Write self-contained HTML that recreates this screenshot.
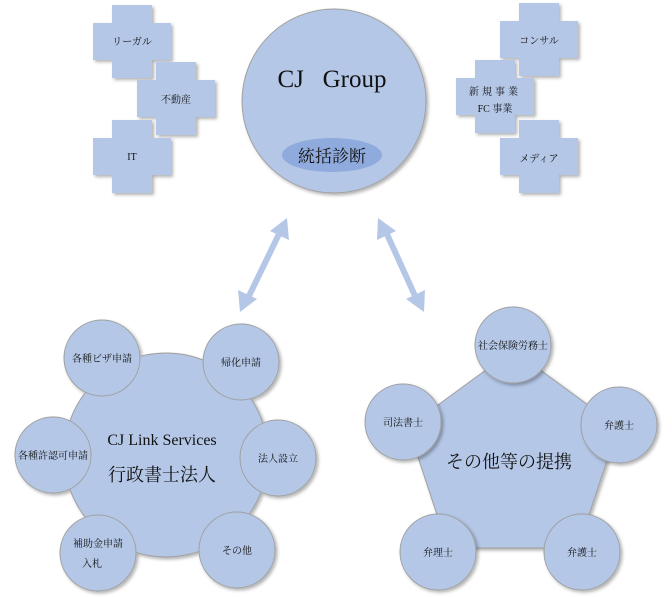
<!DOCTYPE html>
<html><head><meta charset="utf-8"><style>
html,body{margin:0;padding:0;background:#fff;}
svg{display:block;}
text{fill:#111;}
</style></head><body>
<svg width="672" height="597" viewBox="0 0 672 597" xmlns="http://www.w3.org/2000/svg" font-family="'Liberation Serif','DejaVu Serif','Noto Serif CJK SC',serif">
<defs>
<filter id="sh" x="-20%" y="-20%" width="150%" height="150%"><feDropShadow dx="2" dy="2" stdDeviation="1.5" flood-color="#000" flood-opacity="0.3"/></filter>
<path id="cr" d="M19 0 H59 V18 H78 V55 H59 V73 H19 V55 H0 V18 H19 Z"/>
</defs>
<g fill="#b4c7e7" filter="url(#sh)">
<use href="#cr" x="93" y="5"/>
<use href="#cr" x="137" y="62"/>
<use href="#cr" x="93" y="120"/>
<use href="#cr" x="500" y="3"/>
<use href="#cr" x="456" y="60"/>
<use href="#cr" x="500" y="120"/>
</g>
<g font-size="10" text-anchor="middle">
<text x="132" y="45">リーガル</text>
<text x="176" y="103">不動産</text>
<text x="132" y="160">IT</text>
<text x="539" y="44">コンサル</text>
<text x="495" y="95" letter-spacing="3">新規事業</text>
<text x="495" y="112">FC 事業</text>
<text x="539" y="162">メディア</text>
</g>
<circle cx="334" cy="101" r="92" fill="#b4c7e7" stroke="#a0a0a0" stroke-width="1" filter="url(#sh)"/>
<text x="332" y="87" font-size="25" text-anchor="middle" xml:space="preserve" font-family="'Liberation Serif',serif">CJ   Group</text>
<ellipse cx="332" cy="155" rx="50" ry="17" fill="#8faadc"/>
<text x="332" y="162" font-size="17" text-anchor="middle">統括診断</text>
<g stroke="#b4c7e7" stroke-width="6" fill="#b4c7e7">
<line x1="280" y1="232" x2="248" y2="298"/>
<line x1="386" y1="232" x2="416" y2="298"/>
</g>
<g fill="#b4c7e7">
<polygon points="287,218 289,240 270,231"/>
<polygon points="240,312 238,290 257,299"/>
<polygon points="378,218 396,231 377,240"/>
<polygon points="424,312 406,299 425,290"/>
</g>
<g fill="#b4c7e7" stroke="#a0a0a0" stroke-width="1" filter="url(#sh)">
<circle cx="166" cy="455" r="102"/>
<circle cx="102" cy="358" r="38"/>
<circle cx="241" cy="362" r="38"/>
<circle cx="278" cy="458" r="38"/>
<circle cx="237" cy="550" r="38"/>
<circle cx="98" cy="553" r="38"/>
<circle cx="53" cy="455" r="38"/>
</g>
<g font-size="10" text-anchor="middle">
<text x="102" y="362">各種ビザ申請</text>
<text x="241" y="366">帰化申請</text>
<text x="278" y="462">法人設立</text>
<text x="237" y="554">その他</text>
<text x="98" y="547">補助金申請</text>
<text x="92" y="567">入札</text>
<text x="53" y="459">各種許認可申請</text>
</g>
<text x="162" y="445" font-size="16" text-anchor="middle" font-family="'Liberation Serif',serif">CJ Link Services</text>
<text x="162" y="481" font-size="18" text-anchor="middle">行政書士法人</text>
<polygon points="513,350 618,427 578,548 448,548 408,427" fill="#b4c7e7" stroke="#a0a0a0" stroke-width="1" filter="url(#sh)"/>
<g fill="#b4c7e7" stroke="#a0a0a0" stroke-width="1" filter="url(#sh)">
<circle cx="513" cy="345" r="38"/>
<circle cx="619" cy="425" r="38"/>
<circle cx="582" cy="552" r="38"/>
<circle cx="438" cy="552" r="38"/>
<circle cx="403" cy="422" r="38"/>
</g>
<g font-size="10" text-anchor="middle">
<text x="513" y="349">社会保険労務士</text>
<text x="619" y="429">弁護士</text>
<text x="582" y="556">弁護士</text>
<text x="438" y="556">弁理士</text>
<text x="403" y="426">司法書士</text>
</g>
<text x="509" y="468" font-size="18" text-anchor="middle">その他等の提携</text>
</svg>
</body></html>
